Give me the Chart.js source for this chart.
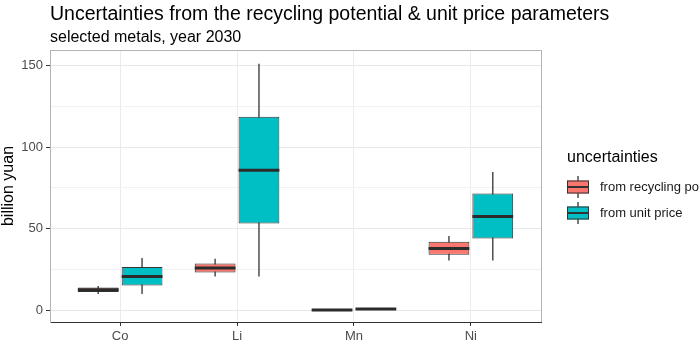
<!DOCTYPE html>
<html>
<head>
<meta charset="utf-8">
<script src="https://cdn.jsdelivr.net/npm/chart.js@4"></script>
<style>
  body { margin: 0; background: #fff; }
  canvas { display: block; }
</style>
</head>
<body>
<canvas id="boxChart" width="699" height="343"></canvas>
<script>
const titleText = 'Uncertainties from the recycling potential & unit price parameters';
const subtitleText = 'selected metals, year 2030';
const yAxisLabel = 'billion yuan';
const legendTitle = 'uncertainties';

const metals = ['Co', 'Li', 'Mn', 'Ni'];
const seriesNames = ['from recycling potential', 'from unit price'];
const seriesColors = ['#F8766D', '#00BFC4'];

// recycling potential: whisker low, q1, median, q3, whisker high
const recLow = [10.1, 20.7, 0.1, 30.5];
const recQ1 = [11.2, 23.2, 0.2, 34.0];
const recMedian = [12.6, 26.0, 0.3, 37.9];
const recQ3 = [14.0, 28.7, 0.5, 42.0];
const recHigh = [15.0, 31.6, 0.6, 45.6];

// unit price
const priceLow = [10.1, 20.7, 0.6, 30.5];
const priceQ1 = [15.2, 53.2, 0.7, 44.0];
const priceMedian = [20.7, 85.8, 0.9, 57.5];
const priceQ3 = [26.5, 118.6, 1.1, 71.6];
const priceHigh = [32.0, 151.0, 1.3, 84.7];

const stats = [
  { low: recLow, median: recMedian, high: recHigh },
  { low: priceLow, median: priceMedian, high: priceHigh }
];

Chart.defaults.font.family = "'Liberation Sans', Arial, sans-serif";

function boxData(q1, q3) {
  return metals.map((m, i) => ({ x: i + 1, y: [q1[i], q3[i]] }));
}

const boxExtras = {
  id: 'boxExtras',
  beforeDatasetsDraw(chart) {
    const ctx = chart.ctx;
    const y = chart.scales.y;
    ctx.save();
    ctx.strokeStyle = '#4d4d4d';
    ctx.lineWidth = 1.5;
    chart.data.datasets.forEach((ds, d) => {
      chart.getDatasetMeta(d).data.forEach((bar, i) => {
        ctx.beginPath();
        ctx.moveTo(bar.x, y.getPixelForValue(stats[d].low[i]));
        ctx.lineTo(bar.x, y.getPixelForValue(stats[d].high[i]));
        ctx.stroke();
      });
    });
    ctx.restore();
  },
  afterDatasetsDraw(chart) {
    const ctx = chart.ctx;
    const y = chart.scales.y;
    ctx.save();
    ctx.strokeStyle = '#2b2b2b';
    ctx.lineWidth = 3;
    chart.data.datasets.forEach((ds, d) => {
      chart.getDatasetMeta(d).data.forEach((bar, i) => {
        const py = y.getPixelForValue(stats[d].median[i]);
        ctx.beginPath();
        ctx.moveTo(bar.x - bar.width / 2, py);
        ctx.lineTo(bar.x + bar.width / 2, py);
        ctx.stroke();
      });
    });
    ctx.restore();
  },
  afterDraw(chart) {
    const ctx = chart.ctx;
    const area = chart.chartArea;
    ctx.save();
    // top and right panel border
    ctx.strokeStyle = '#b3b3b3';
    ctx.lineWidth = 1;
    ctx.beginPath();
    ctx.moveTo(area.left, area.top + 0.5);
    ctx.lineTo(area.right + 0.5, area.top + 0.5);
    ctx.lineTo(area.right + 0.5, area.bottom);
    ctx.stroke();

    // titles
    ctx.fillStyle = '#000';
    ctx.textAlign = 'left';
    ctx.textBaseline = 'alphabetic';
    ctx.font = "19.5px 'Liberation Sans', Arial, sans-serif";
    ctx.fillText(titleText, area.left, 20);
    ctx.font = "16px 'Liberation Sans', Arial, sans-serif";
    ctx.fillText(subtitleText, area.left, 42);

    // legend
    const lx = area.right + 26;
    ctx.textBaseline = 'middle';
    ctx.font = "16px 'Liberation Sans', Arial, sans-serif";
    ctx.fillText(legendTitle, lx, 158);
    ctx.font = "13px 'Liberation Sans', Arial, sans-serif";
    seriesNames.forEach((name, k) => {
      const yc = 187 + 26 * k;
      const cx = lx + 11;
      ctx.strokeStyle = '#4d4d4d';
      ctx.lineWidth = 1.5;
      ctx.beginPath();
      ctx.moveTo(cx, yc - 11);
      ctx.lineTo(cx, yc + 11);
      ctx.stroke();
      ctx.fillStyle = seriesColors[k];
      ctx.fillRect(lx, yc - 6.5, 22, 13);
      ctx.strokeStyle = '#333';
      ctx.lineWidth = 1;
      ctx.strokeRect(lx + 0.5, yc - 6, 21, 12);
      ctx.lineWidth = 2;
      ctx.beginPath();
      ctx.moveTo(lx, yc);
      ctx.lineTo(lx + 22, yc);
      ctx.stroke();
      ctx.fillStyle = '#1a1a1a';
      ctx.fillText(name, lx + 33, yc);
    });
    ctx.restore();
  }
};

new Chart(document.getElementById('boxChart'), {
  type: 'bar',
  data: {
    datasets: [
      {
        label: seriesNames[0],
        data: boxData(recQ1, recQ3),
        backgroundColor: seriesColors[0]
      },
      {
        label: seriesNames[1],
        data: boxData(priceQ1, priceQ3),
        backgroundColor: seriesColors[1]
      }
    ]
  },
  options: {
    responsive: false,
    animation: false,
    layout: { padding: { top: 50, right: 158, left: 0, bottom: 0 } },
    datasets: {
      bar: {
        borderColor: '#333333',
        borderWidth: 1,
        borderSkipped: false,
        categoryPercentage: 0.75,
        barPercentage: 0.93
      }
    },
    plugins: {
      legend: { display: false },
      title: { display: false },
      tooltip: { enabled: false }
    },
    scales: {
      x: {
        type: 'linear',
        min: 0.4,
        max: 4.6,
        offset: false,
        afterFit(scale) { scale.height = 21; },
        grid: { offset: false, color: '#ebebeb', tickColor: '#333', tickLength: 4 },
        border: { color: '#333', width: 1 },
        ticks: {
          stepSize: 1,
          includeBounds: false,
          padding: 3,
          maxRotation: 0,
          color: '#4d4d4d',
          font: { size: 13 },
          callback: v => metals[v - 1] || ''
        }
      },
      y: {
        min: -7.1,
        max: 159.4,
        afterFit(scale) { scale.width = 50; },
        grid: {
          color: c => (c.tick && c.tick.value % 50 === 0) ? '#e8e8e8' : '#f2f2f2',
          tickColor: c => (c.tick && c.tick.value % 50 === 0) ? '#333' : 'rgba(0,0,0,0)',
          tickLength: 4
        },
        border: { color: '#b3b3b3', width: 1 },
        ticks: {
          stepSize: 25,
          includeBounds: false,
          padding: 3,
          color: '#4d4d4d',
          font: { size: 13 },
          callback: v => v % 50 === 0 ? v : ''
        },
        title: {
          display: true,
          text: yAxisLabel,
          color: '#000',
          font: { size: 16, lineHeight: 1.1 },
          padding: { top: 0, bottom: 0 }
        }
      }
    }
  },
  plugins: [boxExtras]
});
</script>
</body>
</html>
